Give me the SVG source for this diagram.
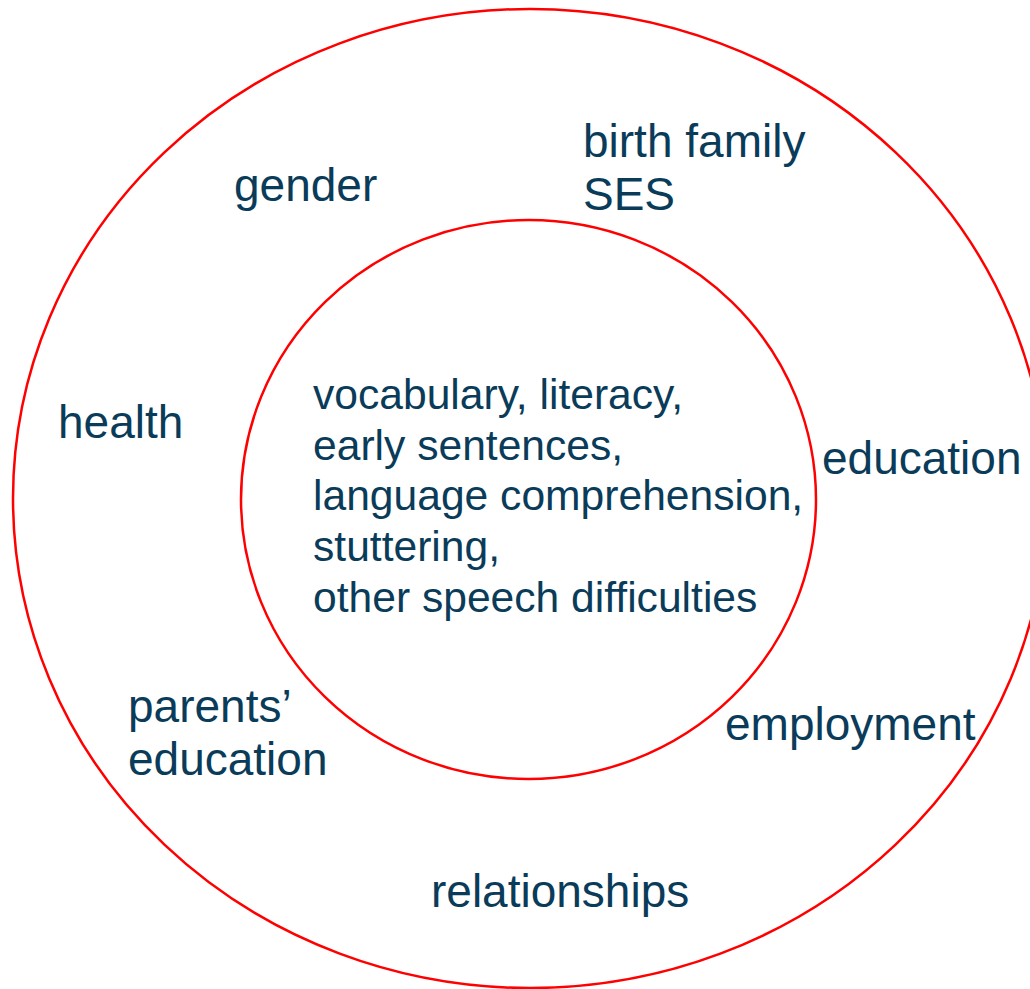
<svg xmlns="http://www.w3.org/2000/svg" width="1030" height="989" viewBox="0 0 1030 989">
<style>
.ring{fill:none;stroke:#ff0000;stroke-width:2.5}
.lbl{font-family:"Liberation Sans",Arial,sans-serif;font-size:46px;fill:#0a3c5a}
.core{font-family:"Liberation Sans",Arial,sans-serif;font-size:42.6px;fill:#0a3c5a}
</style>
<rect width="1030" height="989" fill="#ffffff"/>
<g id="outer-ring">
<ellipse class="ring" cx="530" cy="498.5" rx="517" ry="489.5"/>
</g>
<g id="inner-ring">
<ellipse class="ring" cx="528.5" cy="499.5" rx="287.5" ry="279.5"/>
</g>
<g id="core">
<text class="core" x="313" y="409">vocabulary, literacy,</text>
<text class="core" x="313" y="460">early sentences,</text>
<text class="core" x="313" y="510">language comprehension,</text>
<text class="core" x="313" y="561">stuttering,</text>
<text class="core" x="313" y="612">other speech difficulties</text>
</g>
<g id="gender"><text class="lbl" x="234" y="201">gender</text></g>
<g id="birth-family-ses">
<text class="lbl" x="583" y="157">birth family</text>
<text class="lbl" x="583" y="210">SES</text>
</g>
<g id="health"><text class="lbl" x="58" y="438">health</text></g>
<g id="education"><text class="lbl" x="822" y="474">education</text></g>
<g id="parents-education">
<text class="lbl" x="128" y="722">parents’</text>
<text class="lbl" x="128" y="775">education</text>
</g>
<g id="employment"><text class="lbl" x="725" y="740">employment</text></g>
<g id="relationships"><text class="lbl" x="431" y="907">relationships</text></g>
<g id="connectors"></g>
</svg>
